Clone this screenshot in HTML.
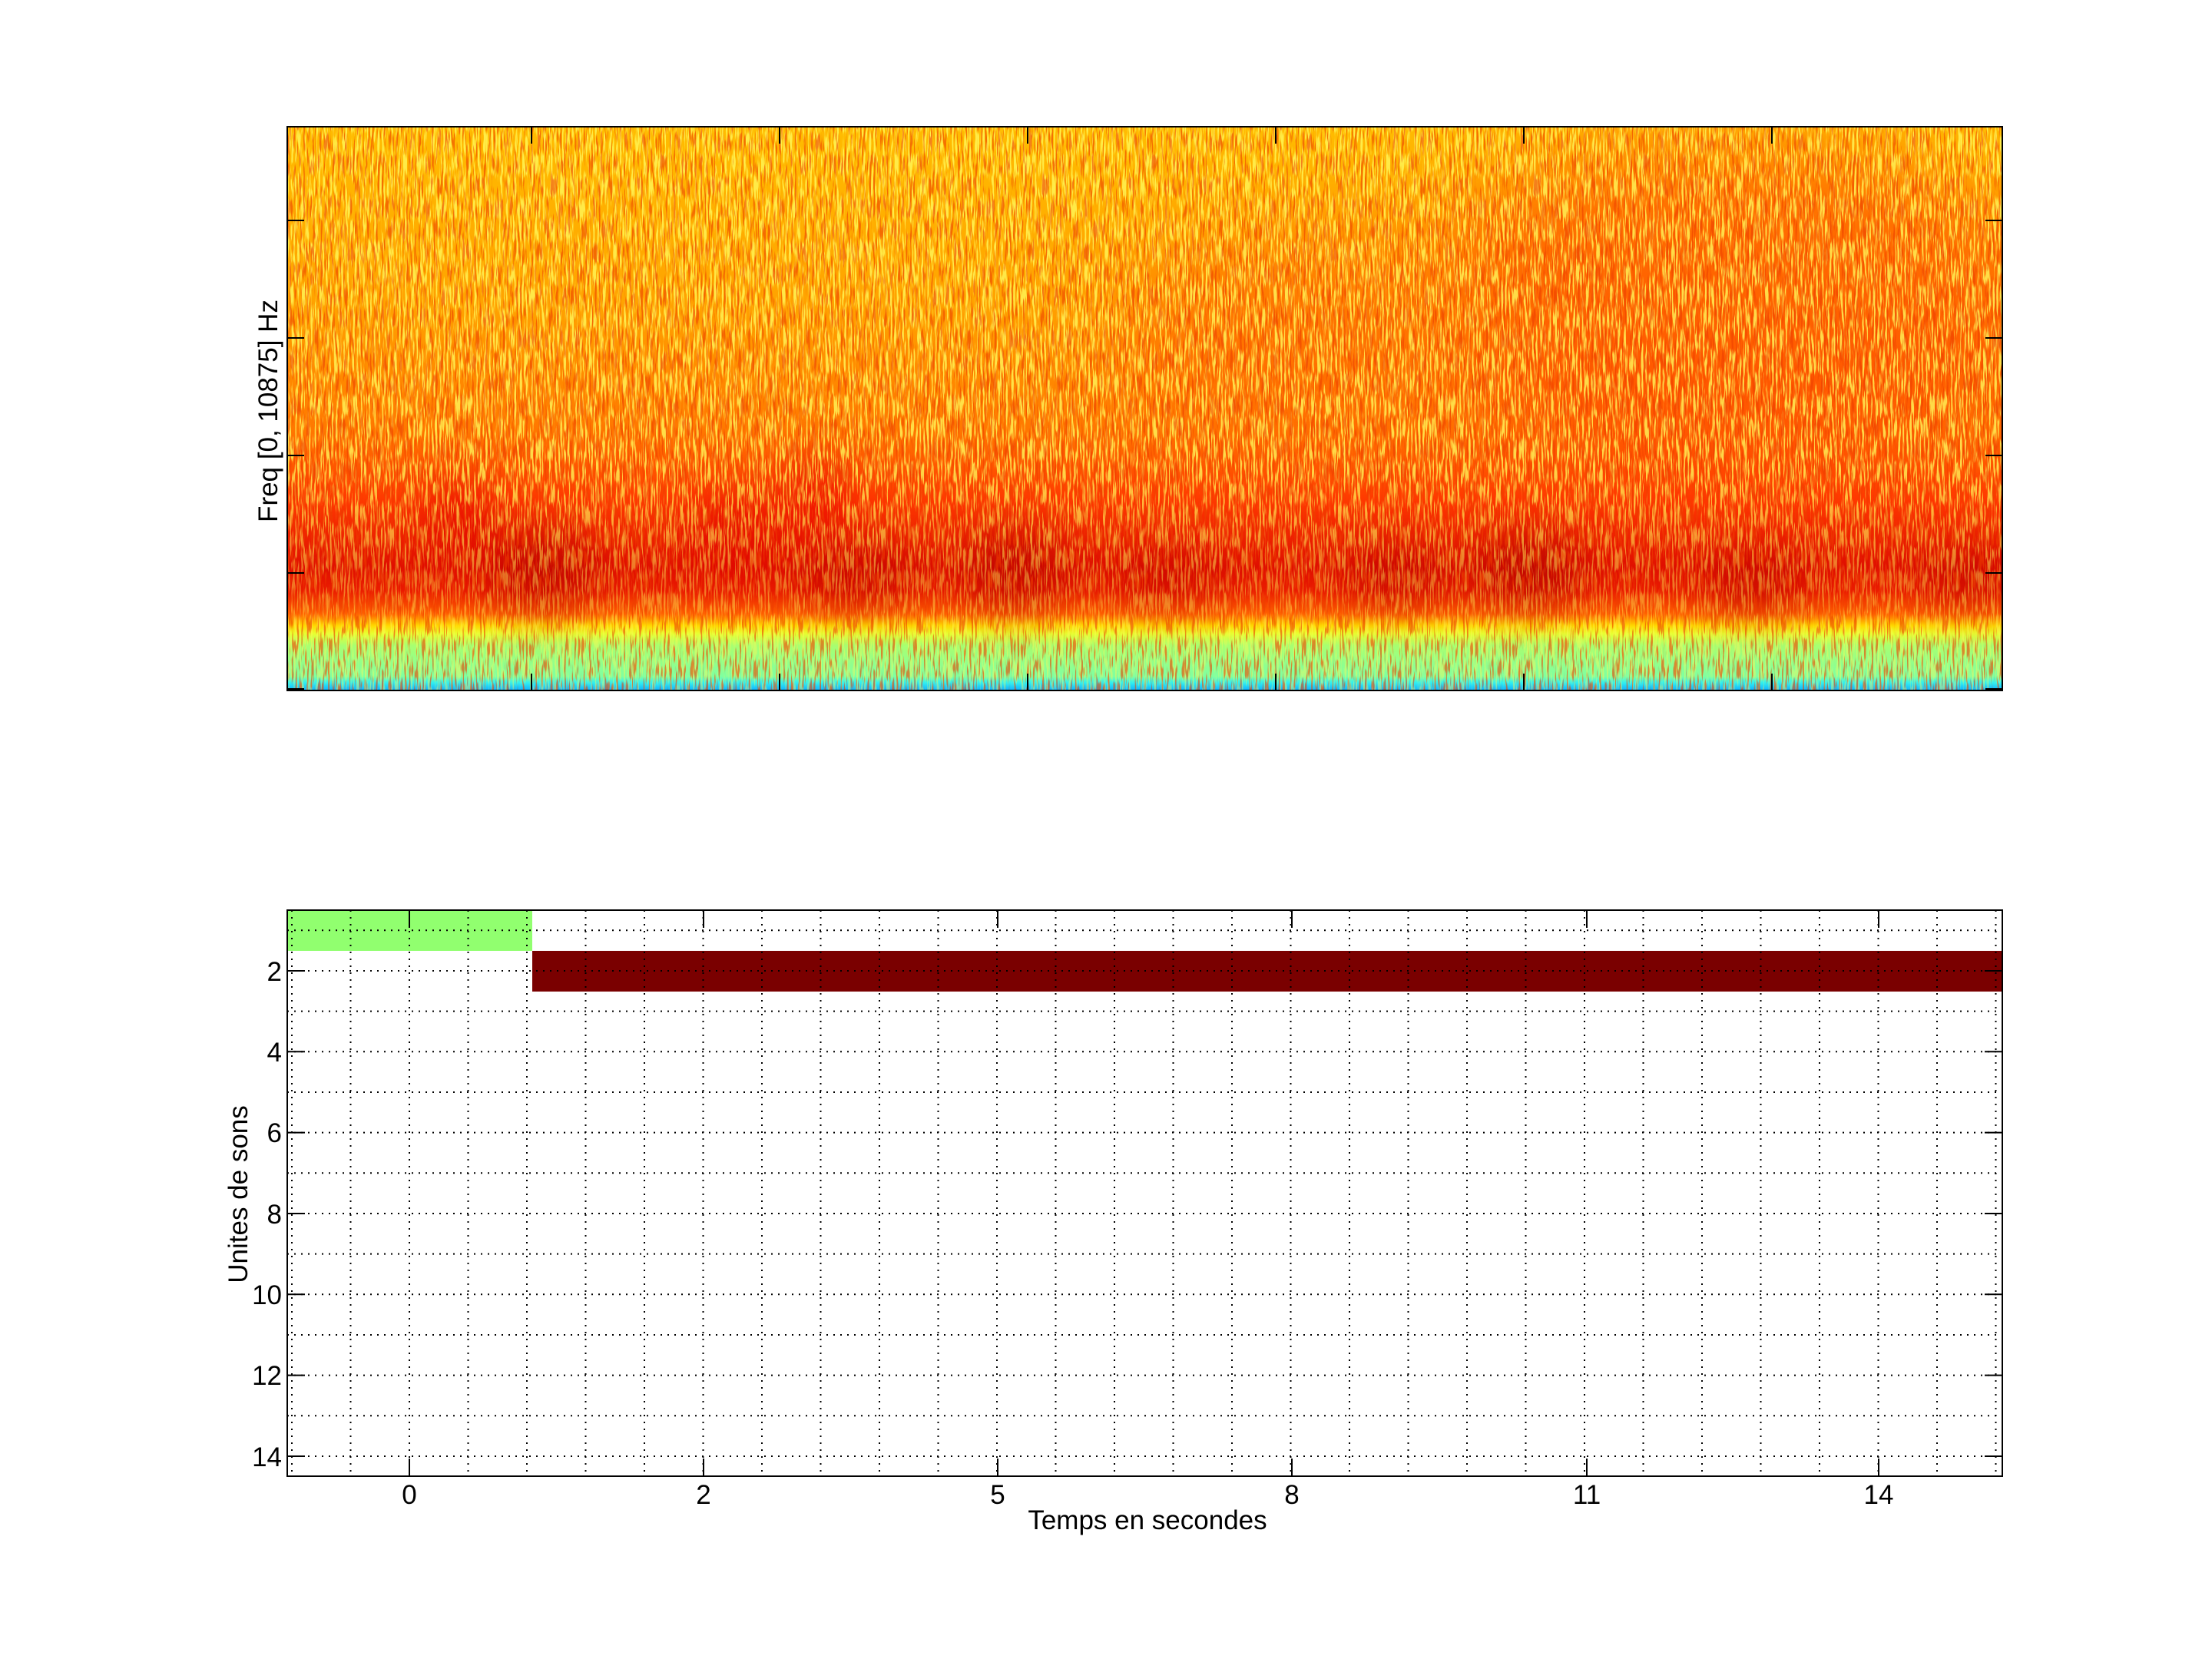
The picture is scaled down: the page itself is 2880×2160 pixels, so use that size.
<!DOCTYPE html>
<html><head><meta charset="utf-8"><style>
html,body{margin:0;padding:0;background:#fff;}
svg{display:block;}
text{font-family:"Liberation Sans",sans-serif;fill:#000;}
</style></head><body>
<svg width="2880" height="2160" viewBox="0 0 2880 2160" xmlns="http://www.w3.org/2000/svg">
<defs>
<linearGradient id="sg" x1="0" y1="165" x2="0" y2="899" gradientUnits="userSpaceOnUse">
<stop offset="0" stop-color="#ffbc00"/>
<stop offset="0.32" stop-color="#ffa200"/>
<stop offset="0.537" stop-color="#ff7800"/>
<stop offset="0.66" stop-color="#ff3a00"/>
<stop offset="0.78" stop-color="#e01000"/>
<stop offset="0.823" stop-color="#ea1c00"/>
<stop offset="0.864" stop-color="#ff6000"/>
<stop offset="0.885" stop-color="#ffd800"/>
<stop offset="0.899" stop-color="#e8ff30"/>
<stop offset="0.92" stop-color="#a8ff70"/>
<stop offset="0.975" stop-color="#80ffa0"/>
<stop offset="0.986" stop-color="#30f0f0"/>
<stop offset="1" stop-color="#10b0ff"/>
</linearGradient>
<filter id="blur60" x="-50%" y="-50%" width="200%" height="200%"><feGaussianBlur stdDeviation="60"/></filter>
<filter id="blur30" x="-50%" y="-50%" width="200%" height="200%"><feGaussianBlur stdDeviation="28"/></filter>
<filter id="ny" x="0" y="0" width="100%" height="100%">
<feTurbulence type="fractalNoise" baseFrequency="0.4 0.035" numOctaves="2" seed="3"/>
<feColorMatrix type="matrix" values="0 0 0 0 1  0 0 0 0 0.95  0 0 0 0 0.1  9 0 0 0 -4.4"/>
</filter>
<filter id="nr" x="0" y="0" width="100%" height="100%">
<feTurbulence type="fractalNoise" baseFrequency="0.4 0.035" numOctaves="2" seed="11"/>
<feColorMatrix type="matrix" values="0 0 0 0 0.85  0 0 0 0 0.05  0 0 0 0 0  0 9 0 0 -4.8"/>
</filter>
<linearGradient id="yfade" x1="0" y1="165" x2="0" y2="899" gradientUnits="userSpaceOnUse">
<stop offset="0" stop-color="#fff"/><stop offset="0.6" stop-color="#fff"/><stop offset="0.8" stop-color="#888"/><stop offset="1" stop-color="#888"/>
</linearGradient>
<mask id="ym"><rect x="374" y="165" width="2233" height="734" fill="url(#yfade)"/></mask>
<clipPath id="cp"><rect x="374" y="165" width="2233" height="734"/></clipPath>
</defs>

<!-- spectrogram -->
<g clip-path="url(#cp)">
<rect x="374" y="165" width="2233" height="734" fill="url(#sg)"/>
<g opacity="0.5" filter="url(#blur60)">
<ellipse cx="2250" cy="400" rx="430" ry="210" fill="#ff2800"/>
<ellipse cx="1700" cy="430" rx="250" ry="130" fill="#ff5000"/>
</g>
<g opacity="0.55" filter="url(#blur30)">
<ellipse cx="705" cy="745" rx="70" ry="55" fill="#b00000"/>
<ellipse cx="600" cy="680" rx="50" ry="60" fill="#e00000"/>
<ellipse cx="1114" cy="750" rx="80" ry="40" fill="#b80000"/>
<ellipse cx="1320" cy="745" rx="70" ry="55" fill="#b00000"/>
<ellipse cx="1520" cy="755" rx="70" ry="35" fill="#c00000"/>
<ellipse cx="1820" cy="750" rx="70" ry="40" fill="#b80000"/>
<ellipse cx="1990" cy="745" rx="70" ry="50" fill="#a80000"/>
<ellipse cx="2283" cy="760" rx="70" ry="40" fill="#b80000"/>
<ellipse cx="2560" cy="755" rx="60" ry="35" fill="#b80000"/>
<ellipse cx="950" cy="700" rx="60" ry="60" fill="#e00000"/>
<ellipse cx="1060" cy="650" rx="50" ry="60" fill="#e80000"/>
</g>
<rect x="374" y="165" width="2233" height="734" filter="url(#ny)" opacity="0.8" mask="url(#ym)"/>
<rect x="374" y="165" width="2233" height="734" filter="url(#nr)" opacity="0.6"/>
</g>
<rect x="374" y="165" width="2233" height="734" fill="none" stroke="#000" stroke-width="2"/>
<g stroke="#000" stroke-width="2">
<path d="M692 165v22M1015 165v22M1338 165v22M1661 165v22M1984 165v22M2307 165v22"/>
<path d="M692 899v-22M1015 899v-22M1338 899v-22M1661 899v-22M1984 899v-22M2307 899v-22"/>
<path d="M374 287h22M374 440h22M374 593h22M374 746h22M374 897h22"/>
<path d="M2607 287h-22M2607 440h-22M2607 593h-22M2607 746h-22M2607 897h-22"/>
</g>
<text x="0" y="0" font-size="35" text-anchor="middle" transform="translate(361,535) rotate(-90)">Freq [0, 10875] Hz</text>

<!-- bottom plot -->
<rect x="374" y="1185" width="319" height="53" fill="#91ff6f"/>
<rect x="693" y="1238" width="1914" height="53" fill="#7a0000"/>
<g stroke="#000" stroke-width="2" stroke-dasharray="2 7">
<path d="M380 1185V1922M456.5 1185V1922M533 1185V1922M609.5 1185V1922M686 1185V1922M762.5 1185V1922M839 1185V1922M915.5 1185V1922M992 1185V1922M1068.5 1185V1922M1145 1185V1922M1221.5 1185V1922M1298 1185V1922M1374.5 1185V1922M1451 1185V1922M1527.5 1185V1922M1604 1185V1922M1680.5 1185V1922M1757 1185V1922M1833.5 1185V1922M1910 1185V1922M1986.5 1185V1922M2063 1185V1922M2139.5 1185V1922M2216 1185V1922M2292.5 1185V1922M2369 1185V1922M2445.5 1185V1922M2522 1185V1922M2598.5 1185V1922"/>
<path d="M374 1211.3H2607M374 1264H2607M374 1316.6H2607M374 1369.3H2607M374 1422H2607M374 1474.6H2607M374 1527.3H2607M374 1580H2607M374 1632.6H2607M374 1685.3H2607M374 1738H2607M374 1790.6H2607M374 1843.3H2607M374 1896H2607"/>
</g>
<rect x="374" y="1185" width="2233" height="737" fill="none" stroke="#000" stroke-width="2"/>
<g stroke="#000" stroke-width="2">
<path d="M533 1185v23M916 1185v23M1299 1185v23M1682 1185v23M2066 1185v23M2446 1185v23"/>
<path d="M533 1922v-23M916 1922v-23M1299 1922v-23M1682 1922v-23M2066 1922v-23M2446 1922v-23"/>
<path d="M374 1264h23M374 1369.3h23M374 1474.6h23M374 1580h23M374 1685.3h23M374 1790.6h23M374 1896h23"/>
<path d="M2607 1264h-23M2607 1369.3h-23M2607 1474.6h-23M2607 1580h-23M2607 1685.3h-23M2607 1790.6h-23M2607 1896h-23"/>
</g>
<g font-size="35" text-anchor="end">
<text x="367" y="1277">2</text>
<text x="367" y="1382">4</text>
<text x="367" y="1487">6</text>
<text x="367" y="1593">8</text>
<text x="367" y="1698">10</text>
<text x="367" y="1803">12</text>
<text x="367" y="1909">14</text>
</g>
<g font-size="35" text-anchor="middle">
<text x="533" y="1958">0</text>
<text x="916" y="1958">2</text>
<text x="1299" y="1958">5</text>
<text x="1682" y="1958">8</text>
<text x="2066" y="1958">11</text>
<text x="2446" y="1958">14</text>
<text x="1494" y="1991">Temps en secondes</text>
</g>
<text x="0" y="0" font-size="35" text-anchor="middle" transform="translate(322,1555) rotate(-90)">Unites de sons</text>
</svg>
</body></html>
